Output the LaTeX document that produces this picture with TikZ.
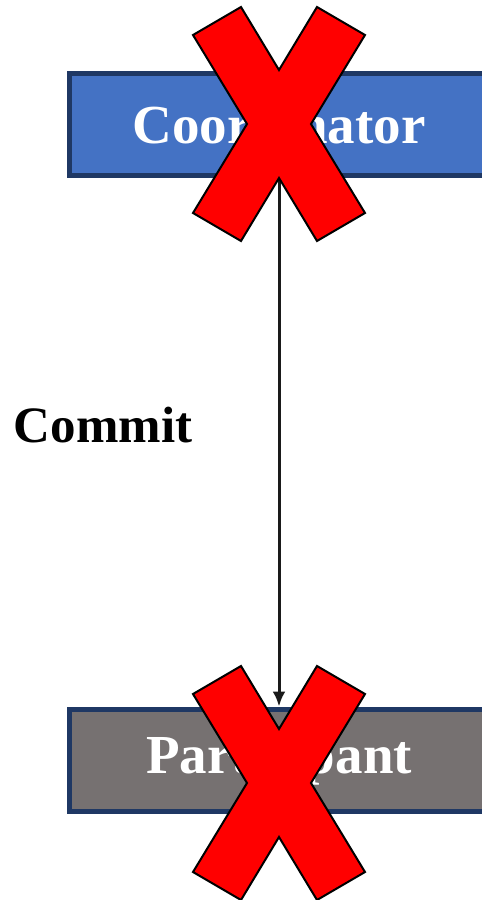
\documentclass[tikz,border=0pt]{standalone}
\usepackage{fontspec}
\setmainfont{Liberation Serif}
\usetikzlibrary{arrows.meta}
\definecolor{navy}{HTML}{1F3864}
\definecolor{coordblue}{HTML}{4472C4}
\definecolor{partgray}{HTML}{767171}
\definecolor{inkdark}{HTML}{1A1A1A}
\begin{document}
\begin{tikzpicture}[x=1pt,y=-1pt,
  box/.style={draw=navy, line width=5pt, minimum width=419pt, minimum height=102pt,
    inner sep=0pt, text=white, font=\bfseries\fontsize{55}{60}\selectfont},
  cross/.style={fill=red, draw=black, line width=2pt, line join=miter},
  msg/.style={draw=inkdark, line width=3pt, -{Latex[length=15pt,width=13pt]}},
  lbl/.style={text=black, font=\bfseries\fontsize{51}{56}\selectfont, inner sep=0pt}]
\useasboundingbox (0,0) rectangle (482,900);
\clip (0,0) rectangle (482,900);
\fill[white] (0,0) rectangle (482,900);
\node[box, fill=coordblue] (coord) at (279,124.5) {Coordinator};
\node[box, fill=partgray] (part) at (279,760) {Participant};
\draw[msg] (coord.south) -- (part.north);
\node[lbl] (commit) at (103,425) {Commit};
\draw[cross, shift={(279,124)}] (-86,-89) -- (-38,-117) -- (0,-54) -- (38,-117) -- (86,-89) -- (32,0) -- (86,89) -- (38,117) -- (0,54) -- (-38,117) -- (-86,89) -- (-32,0) -- cycle;
\draw[cross, shift={(279,783)}] (-86,-89) -- (-38,-117) -- (0,-54) -- (38,-117) -- (86,-89) -- (32,0) -- (86,89) -- (38,117) -- (0,54) -- (-38,117) -- (-86,89) -- (-32,0) -- cycle;
\end{tikzpicture}
\end{document}
